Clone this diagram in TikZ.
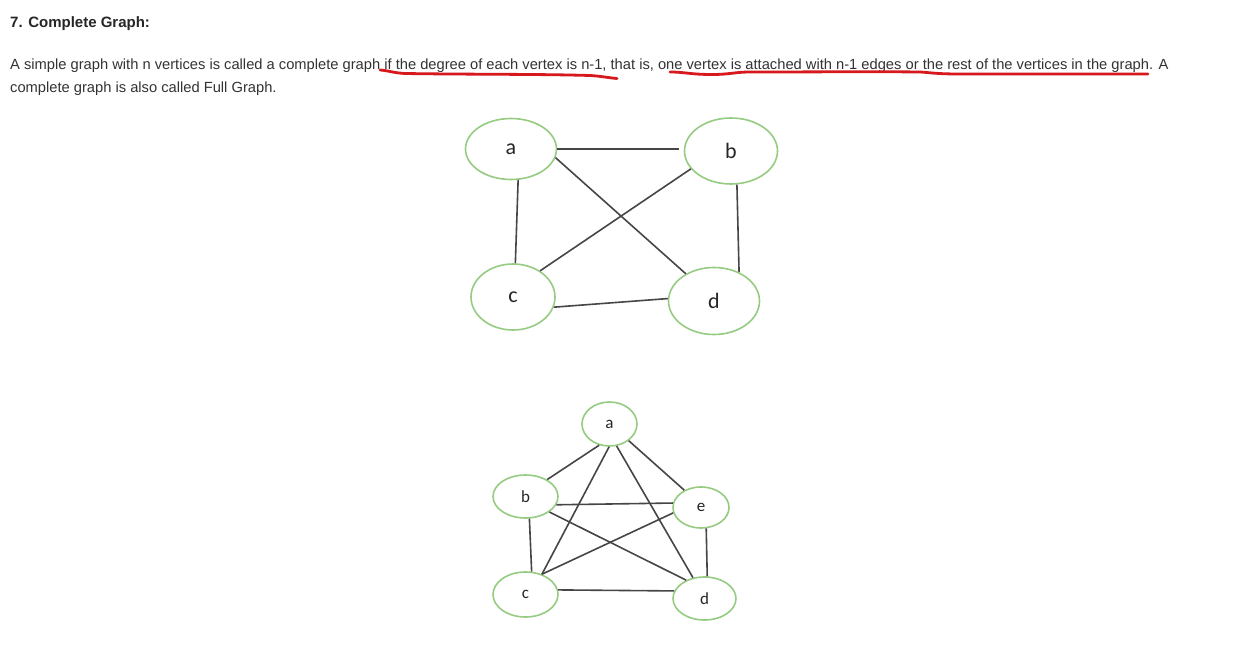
\documentclass[tikz,border=0pt]{standalone}
\usepackage{fontspec}
\setmainfont{Liberation Sans}
\newfontfamily\lblfont{Carlito}
\usetikzlibrary{shapes.geometric}
\definecolor{vgreen}{RGB}{150,203,130}
\definecolor{edgegray}{RGB}{70,70,70}
\definecolor{txtgray}{RGB}{51,51,51}
\definecolor{penred}{RGB}{215,25,30}
\begin{document}
\begin{tikzpicture}[x=1pt,y=-1pt,
  vtx/.style={ellipse,draw=vgreen,line width=1.6pt,inner sep=0pt,font=\lblfont\fontsize{22}{22}\selectfont,text=black!85},
  svtx/.style={vtx,font=\lblfont\fontsize{17}{17}\selectfont},
  edge/.style={draw=edgegray,line width=1.6pt},
  txt/.style={anchor=base west,inner sep=0pt,text=txtgray},
  pen/.style={draw=penred,line width=2.8pt,line cap=round,line join=round}]
\useasboundingbox[fill=white] (0,0) rectangle (1240,650);
% texts
\node[txt,font=\bfseries\fontsize{15}{15}\selectfont,text=black!85] (title) at (10,28) {7. Complete Graph:};
\node[txt,font=\fontsize{14.7}{14.7}\selectfont] (p1) at (10,70) {A simple graph with n vertices is called a complete graph if the degree of each vertex is n-1, that is, one vertex is attached with n-1 edges or the rest of the vertices in the graph. A};
\node[txt,font=\fontsize{14.7}{14.7}\selectfont] (p2) at (10,93) {complete graph is also called Full Graph.};
% red underlines
\draw[pen] (380,70) .. controls (388,70.5) and (394,73) .. (405,73.5) .. controls (470,74.5) and (540,74) .. (590,75.5) .. controls (600,76) and (610,78) .. (617,78.5);
\draw[pen] (670,72) .. controls (685,72) and (690,74.5) .. (712,74.5) .. controls (730,74.5) and (735,72) .. (750,72) .. controls (800,72) and (880,71.5) .. (920,72) .. controls (930,72.5) and (935,74) .. (960,74) .. controls (1050,74) and (1110,74) .. (1148,74);
% top graph
\node[vtx,minimum width=91pt,minimum height=61pt] (a) at (511,149) {a};
\node[vtx,minimum width=93pt,minimum height=66pt] (b) at (731,151) {b};
\node[vtx,minimum width=84pt,minimum height=66pt] (c) at (513,297) {c};
\node[vtx,minimum width=91pt,minimum height=67pt] (d) at (714,301) {d};
\draw[edge] (a.0) -- ++(122,0) coordinate (abend);
\draw[edge] (a.-77) -- (c.86);
\draw[edge] (a.-11) -- (d.136);
\draw[edge] (b.204) -- (c.44);
\draw[edge] (b.-80) -- (d.49);
\draw[edge] (c.-14) -- (d.177);
% bottom graph
\node[svtx,minimum width=55pt,minimum height=44pt] (a2) at (609.5,424) {a};
\node[svtx,minimum width=65pt,minimum height=43pt] (b2) at (525.5,496.5) {b};
\node[svtx,minimum width=56pt,minimum height=41pt] (e2) at (701,507.5) {e};
\node[svtx,minimum width=65pt,minimum height=45pt] (c2) at (525.5,594.5) {c};
\node[svtx,minimum width=63pt,minimum height=43pt] (d2) at (704.5,598.5) {d};
\draw[edge] (a2.-116) -- (b2.38);
\draw[edge] (a2.-91) -- (c2.51);
\draw[edge] (a2.-72) -- (d2.119);
\draw[edge] (a2.-41) -- (e2.134);
\draw[edge] (b2.-15) -- (e2.171);
\draw[edge] (b2.-33) -- (d2.135);
\draw[edge] (b2.-80) -- (c2.75);
\draw[edge] (c2.51) -- (e2.-169);
\draw[edge] (e2.-76) -- (d2.83);
\draw[edge] (c2.8) -- (d2.166);
\end{tikzpicture}
\end{document}
